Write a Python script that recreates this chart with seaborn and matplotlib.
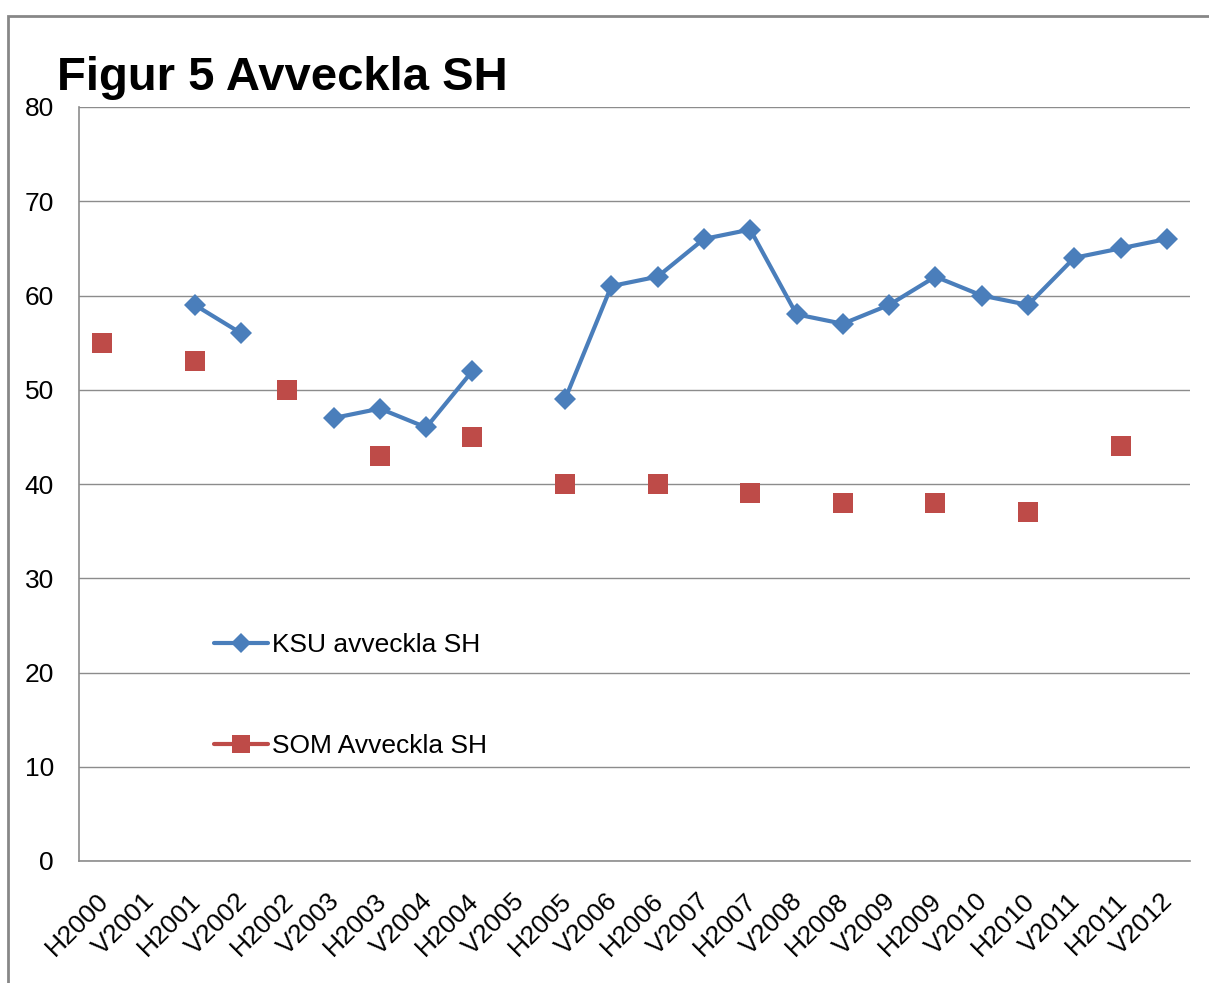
import numpy as np
import pandas as pd
import matplotlib
matplotlib.use("Agg")
import matplotlib.pyplot as plt
import matplotlib.transforms as mtransforms
import seaborn as sns
from matplotlib.lines import Line2D
from matplotlib.patches import Rectangle

categories = ["H2000", "V2001", "H2001", "V2002", "H2002", "V2003", "H2003", "V2004",
              "H2004", "V2005", "H2005", "V2006", "H2006", "V2007", "H2007", "V2008",
              "H2008", "V2009", "H2009", "V2010", "H2010", "V2011", "H2011", "V2012"]
ksu = [np.nan, np.nan, 59, 56, np.nan, 47, 48, 46, 52, np.nan, 49, 61,
       62, 66, 67, 58, 57, 59, 62, 60, 59, 64, 65, 66]
som = [55, np.nan, 53, np.nan, 50, np.nan, 43, np.nan, 45, np.nan, 40, np.nan,
       40, np.nan, 39, np.nan, 38, np.nan, 38, np.nan, 37, np.nan, 44, np.nan]
yticks = [0, 10, 20, 30, 40, 50, 60, 70, 80]

ksu_label = "KSU avveckla SH"
som_label = "SOM Avveckla SH"
title = "Figur 5 Avveckla SH"

blue = "#4A7EBB"
red = "#BE4B48"
gray = "#8C8C8C"

sns.set_style("white")
plt.rcParams["font.family"] = ["Liberation Sans", "DejaVu Sans"]
plt.rcParams["text.color"] = "black"
plt.rcParams["xtick.color"] = gray
plt.rcParams["ytick.color"] = gray
plt.rcParams["xtick.labelcolor"] = "black"
plt.rcParams["ytick.labelcolor"] = "black"

pos = np.arange(len(categories))
df_k = pd.DataFrame({"pos": pos, "val": ksu})
# segment ids for contiguous runs (gaps at missing values)
df_k["seg"] = np.cumsum(np.isnan(df_k["val"].values))
df_k = df_k.dropna()
df_s = pd.DataFrame({"pos": pos, "val": som}).dropna()

fig = plt.figure(figsize=(12.09, 9.83), dpi=100)
ax = fig.add_axes([79 / 1209, 1 - 861 / 983, 1111 / 1209, 754 / 983])

lw = 3.0
sns.lineplot(data=df_k, x="pos", y="val", units="seg", estimator=None, ax=ax,
             color=blue, linewidth=lw, marker="D", markersize=11.5,
             markeredgecolor=blue, markeredgewidth=0, legend=False, zorder=3)
sns.scatterplot(data=df_s, x="pos", y="val", ax=ax, color=red, marker="s",
                s=205, edgecolor=red, linewidth=0, legend=False, zorder=3)

fs = 19
ax.set_xlim(-0.5, len(categories) - 0.5)
ax.set_ylim(0, 80)
ax.set_yticks(yticks)
ax.set_yticklabels([str(t) for t in yticks], fontsize=fs)
ax.set_xticks(pos)
ax.set_xticklabels(categories, rotation=45, ha="right", rotation_mode="anchor", fontsize=fs)
ax.set_xticks(np.arange(-0.5, len(categories)), minor=True)
ax.tick_params(axis="x", which="major", length=0, pad=20)
ax.tick_params(axis="x", which="minor", length=6, width=1, direction="out")
ax.tick_params(axis="y", length=6, width=1, direction="out", pad=12)
offset = mtransforms.ScaledTranslation(-6 / 100, 0, fig.dpi_scale_trans)
for lab in ax.get_xticklabels():
    lab.set_transform(lab.get_transform() + offset)
ax.set_xlabel("")
ax.set_ylabel("")
ax.grid(axis="y", color=gray, linewidth=1)
ax.set_axisbelow(True)
for s in ["top", "right"]:
    ax.spines[s].set_visible(False)
for s in ["left", "bottom"]:
    ax.spines[s].set_color(gray)
    ax.spines[s].set_linewidth(1.2)

handles = [
    Line2D([], [], color=blue, linewidth=lw, marker="D", markersize=10.5, markeredgewidth=0),
    Line2D([], [], color=red, linewidth=lw, marker="s", markersize=13, markeredgewidth=0),
]
ax.legend(handles, [ksu_label, som_label], loc="center left",
          bbox_to_anchor=(135 / 1111, 0.2195), frameon=False, fontsize=fs,
          labelspacing=2.9, handlelength=2.05, handletextpad=0.15,
          borderaxespad=0, borderpad=0)

fig.text(57 / 1209, 1 - 90 / 983, title, fontsize=34, fontweight="bold",
         ha="left", va="baseline", color="black")

fig.patches.append(Rectangle((8 / 1209, -0.01), 1.02, 1 - 16 / 983 + 0.01,
                             transform=fig.transFigure, fill=False,
                             edgecolor="#878787", linewidth=2))

fig.savefig("out.png", dpi=100)
